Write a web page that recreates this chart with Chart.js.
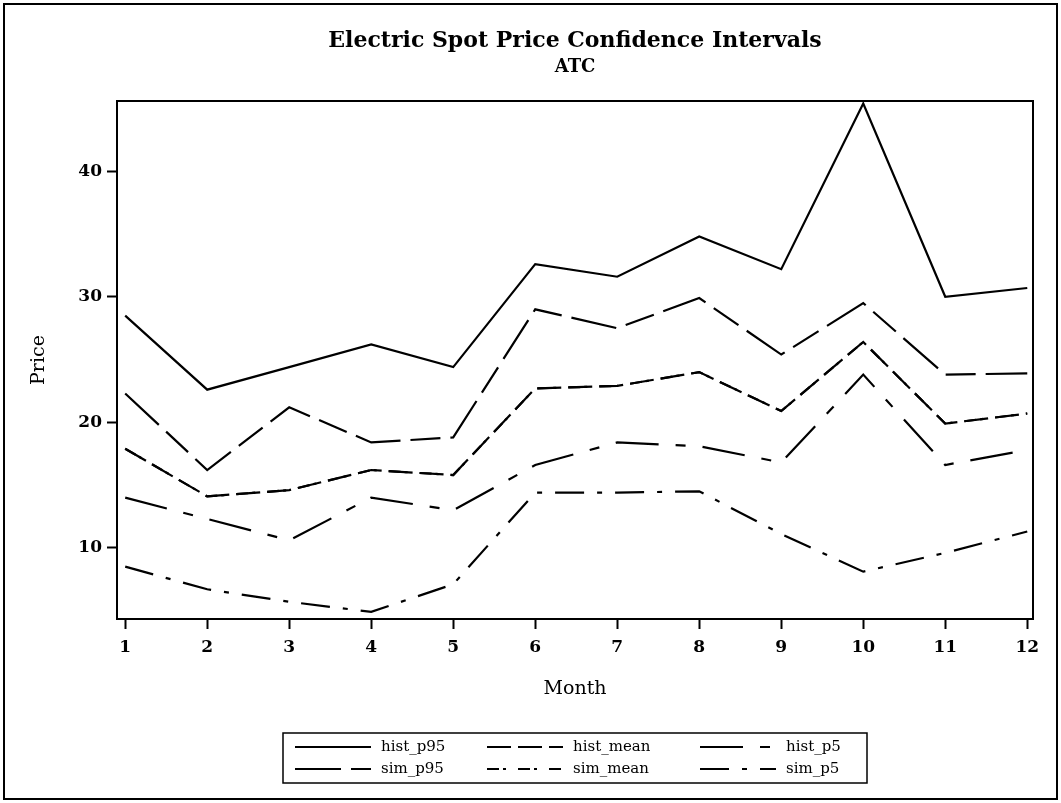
<!DOCTYPE html>
<html>
<head>
<meta charset="utf-8">
<title>Electric Spot Price Confidence Intervals</title>
<script src="https://cdn.jsdelivr.net/npm/chart.js@4.4.1/dist/chart.umd.min.js"></script>
<style>
  html, body { margin: 0; padding: 0; background: #fff; }
  #wrap { width: 1061px; height: 803px; position: relative; }
</style>
</head>
<body>
<div id="wrap"><canvas id="priceChart" width="1061" height="803"></canvas></div>
<script>
// monthly ATC spot price bands, historical vs simulated
var months = [1, 2, 3, 4, 5, 6, 7, 8, 9, 10, 11, 12];
var priceTicks = [10, 20, 30, 40];

var histP95  = [28.5, 22.6, 24.4, 26.2, 24.4, 32.6, 31.6, 34.8, 32.2, 45.4, 30.0, 30.7];
var histMean = [17.9, 14.1, 14.6, 16.2, 15.8, 22.7, 22.9, 24.0, 20.9, 26.4, 19.9, 20.7];
var histP5   = [14.0, 12.3, 10.6, 14.0, 13.0, 16.6, 18.4, 18.1, 16.8, 23.8, 16.6, 17.8];
var simP95   = [22.3, 16.2, 21.2, 18.4, 18.8, 29.0, 27.5, 29.9, 25.4, 29.5, 23.8, 23.9];
var simMean  = [17.9, 14.1, 14.6, 16.2, 15.8, 22.7, 22.9, 24.0, 20.9, 26.4, 19.9, 20.7];
var simP5    = [8.5, 6.7, 5.7, 4.9, 7.1, 14.4, 14.4, 14.5, 11.1, 8.1, 9.6, 11.3];

var FONT = "'DejaVu Serif', 'Liberation Serif', serif";

function points(vals) {
	return months.map(function (m, i) { return { x: m, y: vals[i] }; });
}

function series(label, vals, dash) {
	return {
		label: label,
		data: points(vals),
		borderColor: '#000',
		borderWidth: 2.2,
		borderDash: dash,
		pointRadius: 0,
		tension: 0,
		fill: false
	};
}

// plot frame, outer border and the boxed legend under the axis
var framePlugin = {
	id: 'frame',
	afterDraw: function (chart) {
		var ctx = chart.ctx;
		var a = chart.chartArea;
		ctx.save();
		ctx.strokeStyle = '#000';
		ctx.setLineDash([]);
		ctx.lineWidth = 2;
		ctx.strokeRect(a.left, a.top, a.right - a.left, a.bottom - a.top);
		ctx.strokeRect(4, 4, chart.width - 8, chart.height - 8);

		// legend box
		var bx = 283, by = 733, bw = 584, bh = 50;
		ctx.lineWidth = 1.5;
		ctx.strokeRect(bx, by, bw, bh);
		var colX = [295, 487, 700];
		var rowY = [by + 14, by + 36];
		ctx.font = '15px ' + FONT;
		ctx.fillStyle = '#000';
		ctx.textBaseline = 'middle';
		chart.data.datasets.forEach(function (ds, i) {
			var x = colX[i % 3];
			var y = rowY[Math.floor(i / 3)];
			ctx.lineWidth = 2;
			ctx.setLineDash(ds.borderDash || []);
			ctx.beginPath();
			ctx.moveTo(x, y);
			ctx.lineTo(x + 76, y);
			ctx.stroke();
			ctx.setLineDash([]);
			ctx.fillText(ds.label, x + 86, y);
		});
		ctx.restore();
	}
};

var ctx = document.getElementById('priceChart').getContext('2d');
var priceChart = new Chart(ctx, {
	type: 'line',
	data: {
		datasets: [
			series('hist_p95', histP95, []),
			series('hist_mean', histMean, [24, 7]),
			series('hist_p5', histP5, [43, 17, 10, 17]),
			series('sim_p95', simP95, [46, 10, 30, 10]),
			series('sim_mean', simMean, [12, 4, 3, 12]),
			series('sim_p5', simP5, [29, 13, 5, 13])
		]
	},
	options: {
		responsive: false,
		animation: false,
		devicePixelRatio: 1,
		layout: { padding: { left: 10, right: 28, top: 0, bottom: 94 } },
		plugins: {
			legend: { display: false },
			tooltip: { enabled: false },
			title: {
				display: true,
				fullSize: false,
				text: 'Electric Spot Price Confidence Intervals',
				color: '#000',
				font: { family: FONT, size: 22, weight: 'bold' },
				padding: { top: 28, bottom: 0 }
			},
			subtitle: {
				display: true,
				fullSize: false,
				text: 'ATC',
				color: '#000',
				font: { family: FONT, size: 18, weight: 'bold' },
				padding: { top: 2, bottom: 23 }
			}
		},
		scales: {
			x: {
				type: 'linear',
				min: 0.9,
				max: 12.07,
				afterBuildTicks: function (axis) {
					axis.ticks = months.map(function (v) { return { value: v }; });
				},
				afterFit: function (axis) { axis.height = 90; },
				border: { display: false },
				grid: {
					drawOnChartArea: false,
					drawTicks: true,
					tickLength: 10,
					tickWidth: 2,
					tickColor: '#000'
				},
				ticks: {
					color: '#000',
					padding: 8,
					autoSkip: false,
					maxRotation: 0,
					font: { family: FONT, size: 17, weight: 'bold' }
				},
				title: {
					display: true,
					text: 'Month',
					color: '#000',
					font: { family: FONT, size: 19 },
					padding: { top: 0, bottom: 9 }
				}
			},
			y: {
				type: 'linear',
				min: 4.33,
				max: 45.6,
				afterBuildTicks: function (axis) {
					axis.ticks = priceTicks.map(function (v) { return { value: v }; });
				},
				afterFit: function (axis) { axis.width = 107; },
				border: { display: false },
				grid: {
					drawOnChartArea: false,
					drawTicks: true,
					tickLength: 10,
					tickWidth: 2,
					tickColor: '#000'
				},
				ticks: {
					color: '#000',
					padding: 5,
					font: { family: FONT, size: 17, weight: 'bold' }
				},
				title: {
					display: true,
					text: 'Price',
					color: '#000',
					font: { family: FONT, size: 19 },
					padding: { top: 18, bottom: 0 }
				}
			}
		}
	},
	plugins: [framePlugin]
});
</script>
</body>
</html>
